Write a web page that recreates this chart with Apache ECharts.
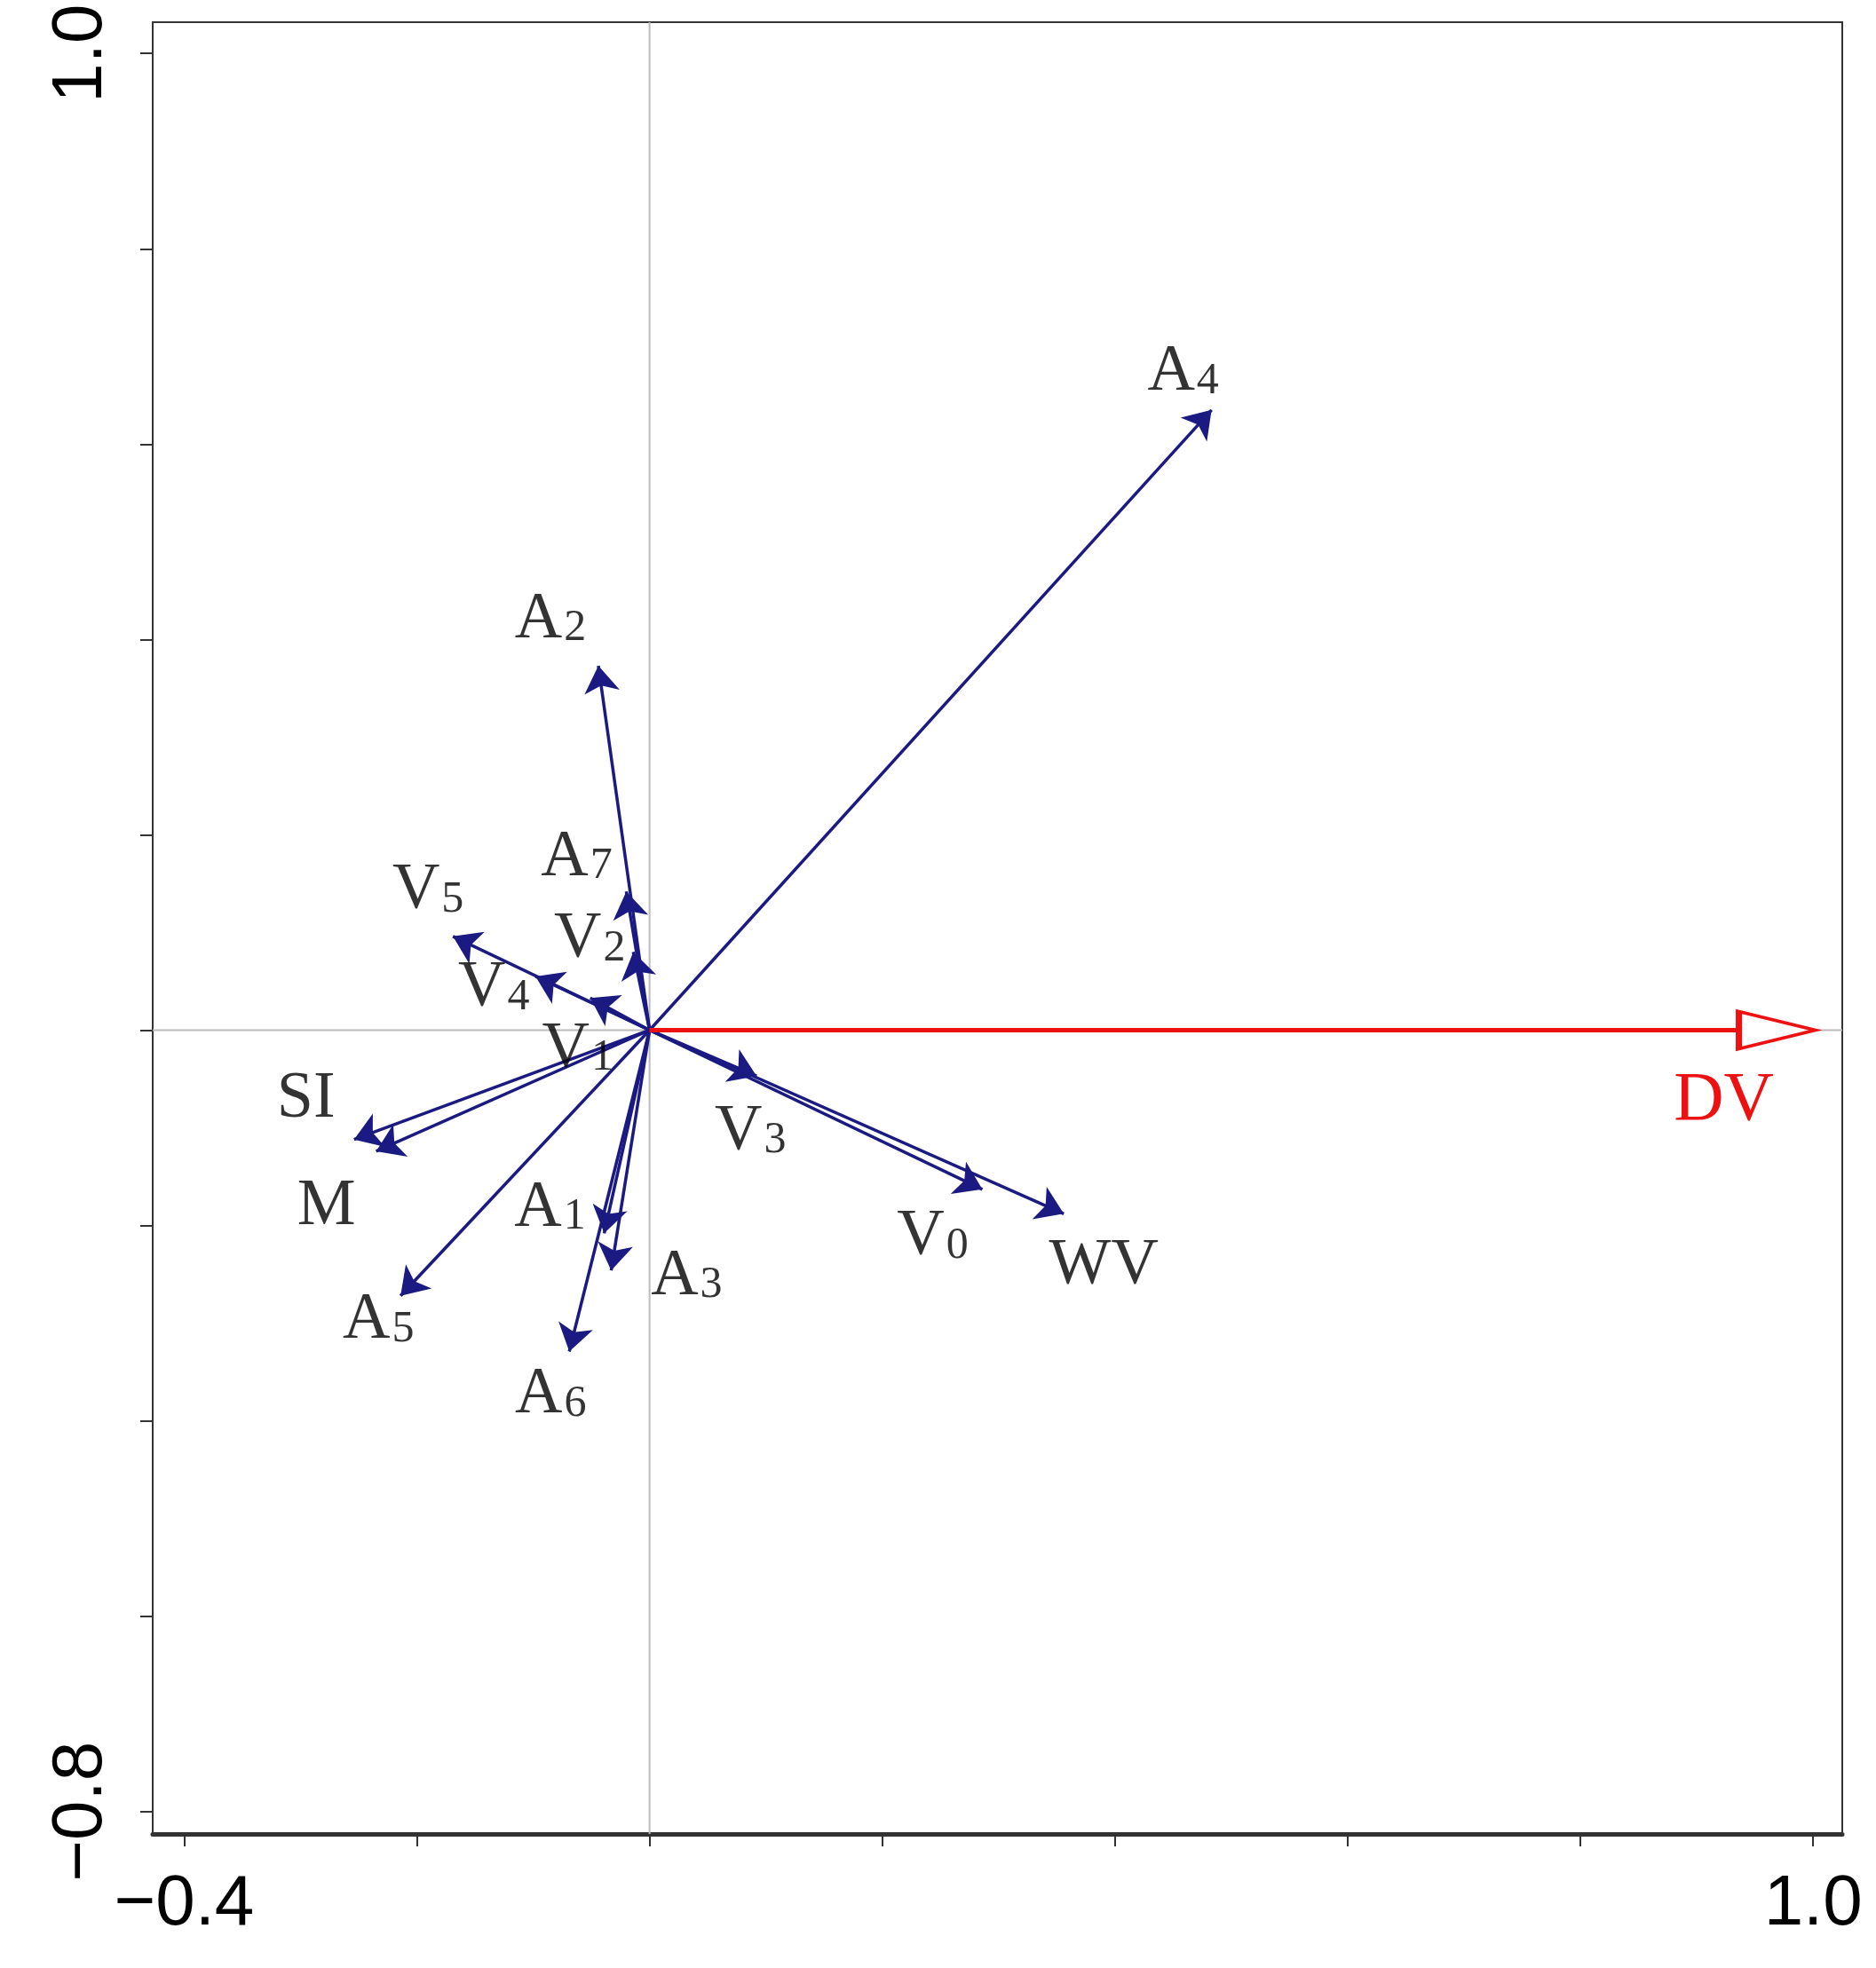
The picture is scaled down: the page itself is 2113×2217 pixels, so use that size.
<!DOCTYPE html>
<html>
<head>
<meta charset="utf-8">
<script src="https://cdn.jsdelivr.net/npm/echarts@6/dist/echarts.min.js"></script>
<style>html,body{margin:0;background:#fff}#c{width:2113px;height:2217px}</style>
</head>
<body>
<div id="c"></div>
<script>
(function(){
  // variable vectors (tips), letter + subscript
  const names = ['A4','A2','A7','V2','V5','V4','V1','SI','M','A5','A1','A3','A6','V3','V0','WV']
  const xs = [0.483,-0.044,-0.020,-0.014,-0.169,-0.098,-0.051,-0.254,-0.235,-0.214,-0.039,-0.033,-0.069,0.092,0.286,0.356]
  const ys = [0.635,0.373,0.142,0.08,0.096,0.055,0.033,-0.112,-0.124,-0.272,-0.208,-0.246,-0.329,-0.047,-0.163,-0.188]
  const dvX = 1.0, dvY = 0
  const xTicks = [-0.4,-0.2,0,0.2,0.4,0.6,0.8,1.0]
  const yTicks = [-0.8,-0.6,-0.4,-0.2,0,0.2,0.4,0.6,0.8,1.0]
  // label offsets in px (style only)
  const offs = {A4:[-32,-42],A2:[-54,-52],A7:[-56,-38],V2:[-49,-14],V5:[-28,-51],V4:[-47,14],V1:[-14,58],
    SI:[-54,-45],M:[-56,63],A5:[-25,28],A1:[-61,-28],A3:[85,7],A6:[-21,49],V3:[-7,63],V0:[-56,54],WV:[45,59]}

  const chart = echarts.init(document.getElementById('c'))
  const navy = '#1a1a82'
  const fmt = n => (n.length === 2 && /[0-9]/.test(n[1])) ? '{b|' + n[0] + '}{s|' + n[1] + '}' : '{b|' + n + '}'
  const rich = {
    b:{fontFamily:'Liberation Serif',fontSize:74,color:'#000'},
    s:{fontFamily:'Liberation Serif',fontSize:50,color:'#000',padding:[20,0,0,2]}
  }
  const arrows = names.map((n,i)=>({coords:[[0,0],[xs[i],ys[i]]]}))
  const tips = names.map((n,i)=>({value:[xs[i],ys[i]],name:n,label:{offset:offs[n]}}))
  const option = {
    animation:false,
    grid:{left:172,right:38,top:25,bottom:151,show:true,borderColor:'#333',borderWidth:2},
    xAxis:{type:'value',min:-0.427,max:1.025,splitLine:{show:false},
      axisLine:{show:true,onZero:false,lineStyle:{color:'#333',width:5}},
      axisTick:{show:true,length:14,customValues:xTicks,lineStyle:{color:'#333',width:2}},
      axisLabel:{customValues:[-0.4,1.0],formatter:v=>v.toFixed(1).replace('-','−'),fontFamily:'Liberation Sans',fontSize:80,color:'#000',margin:40}},
    yAxis:{type:'value',min:-0.823,max:1.032,splitLine:{show:false},
      axisLine:{show:true,onZero:false,lineStyle:{color:'#333',width:2}},
      axisTick:{show:true,length:14,customValues:yTicks,lineStyle:{color:'#333',width:2}},
      axisLabel:{customValues:[-0.8,1.0],rotate:90,formatter:v=>v.toFixed(1).replace('-','−'),fontFamily:'Liberation Sans',fontSize:80,color:'#000',margin:40}},
    series:[
      {type:'line',data:[[0,-0.823],[0,1.032]],symbol:'none',lineStyle:{color:'#bbb',width:2},z:1},
      {type:'line',data:[[-0.427,0],[1.025,0]],symbol:'none',lineStyle:{color:'#bbb',width:2},z:1},
      {type:'lines',coordinateSystem:'cartesian2d',data:arrows,symbol:['none','arrow'],symbolSize:[24,30],
        lineStyle:{color:navy,width:3.5,opacity:1},z:3},
      {type:'lines',coordinateSystem:'cartesian2d',data:[{coords:[[0,0],[dvX-0.06,dvY]]}],symbol:'none',
        lineStyle:{color:'#ee1111',width:5,opacity:1},z:3},
      {type:'scatter',data:[[dvX-0.031,dvY]],symbol:'triangle',symbolSize:[42,86],symbolRotate:-90,
        itemStyle:{color:'#fff',borderColor:'#ee1111',borderWidth:5,opacity:1},z:4,
        label:{show:true,formatter:'DV',offset:[-60,80],fontFamily:'Liberation Serif',fontSize:78,color:'#ee1111'}},
      {type:'scatter',data:tips,symbolSize:0,z:5,
        label:{show:true,position:'inside',formatter:p=>fmt(p.name),rich:rich}}
    ]
  }
  chart.setOption(option)
})();
</script>
</body>
</html>
